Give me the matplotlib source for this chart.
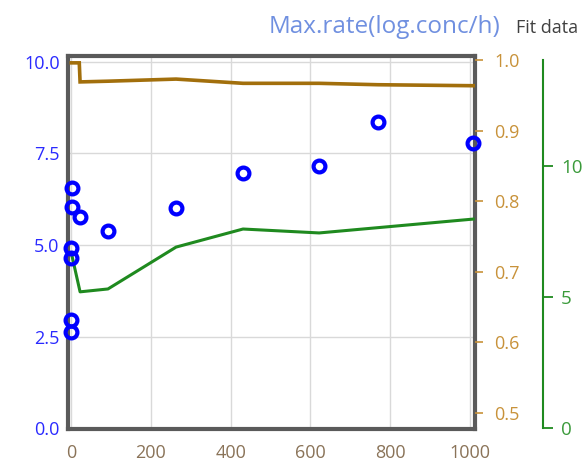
import matplotlib
matplotlib.use("Agg")
import matplotlib.pyplot as plt

# Observed maximum rates (left axis) against time
t_obs = [1, 2, 22, 92, 0, 0, 0, 0, 263, 431, 622, 770, 1009]
rate_obs = [6.55, 6.03, 5.76, 5.38, 4.92, 4.65, 2.95, 2.63, 6.00, 6.96, 7.15, 8.35, 7.78]

# Fitted curve on the brown (0.5-1.0) scale
t_fit_a = [0, 20, 22, 92, 263, 431, 622, 770, 1009]
fit_a = [0.996, 0.996, 0.969, 0.970, 0.973, 0.967, 0.967, 0.965, 0.9636]

# Fitted curve on the green (0-10) scale
t_fit_b = [0, 22, 92, 263, 431, 622, 1009]
fit_b = [6.68, 5.19, 5.30, 6.90, 7.59, 7.44, 7.97]

x_ticks = [0, 200, 400, 600, 800, 1000]
left_ticks = [0.0, 2.5, 5.0, 7.5, 10.0]
brown_ticks = [0.5, 0.6, 0.7, 0.8, 0.9, 1.0]
green_ticks = [0, 5, 10]

plt.rcParams["font.family"] = ["Open Sans", "DejaVu Sans"]

W, H = 588, 462
fig = plt.figure(figsize=(W / 100, H / 100), dpi=100)
left_px, right_px, top_px, bottom_px = 68, 474.5, 56, 429
ax = fig.add_axes([left_px / W, 1 - bottom_px / H,
                   (right_px - left_px) / W, (bottom_px - top_px) / H])

ax2 = ax.twinx()
ax3 = ax.twinx()

BLUE = "#0000ff"
BROWN_LINE = "#a26f0c"
BROWN_TXT = "#c8923a"
GREEN_LINE = "#1f8a1f"
GREEN_TXT = "#3a9a3a"
FRAME = "#5a5a5a"

# limits
ax.set_xlim(-8.3, 1012)
ax.set_ylim(-0.02, 10.15)
ax2.set_ylim(0.4773, 1.0057)
ax3.set_ylim(-0.05, 14.2)

# grid and frame on the host axes
ax.set_xticks(x_ticks)
ax.set_yticks(left_ticks)
ax.set_yticklabels([f"{v:.1f}" for v in left_ticks])
ax.grid(True, color="#d9d9d9", lw=1.0, zorder=0)
ax.set_axisbelow(True)
for s in ax.spines.values():
    s.set_color(FRAME)
    s.set_linewidth(3.0)
ax.tick_params(axis="y", length=0, pad=6, labelcolor="#2a2aff", labelsize=13)
ax.tick_params(axis="x", length=0, pad=11, labelcolor="#8a7358", labelsize=13)

# fitted lines drawn in the host axes using the twin scales
ax.plot(t_fit_a, fit_a, color=BROWN_LINE, lw=2.6, transform=ax2.transData,
        zorder=3, solid_joinstyle="miter")
ax.plot(t_fit_b, fit_b, color=GREEN_LINE, lw=2.2, transform=ax3.transData,
        zorder=3)

# observed points
ax.plot(t_obs, rate_obs, "o", ms=8.5, mfc="none", mec=BLUE, mew=3.0,
        clip_on=False, zorder=5)

ax.set_xlim(-8.3, 1012)
ax.set_ylim(-0.02, 10.15)

# brown right axis: ticks only, frame comes from the host
for s in ax2.spines.values():
    s.set_visible(False)
ax2.set_yticks(brown_ticks)
ax2.set_yticklabels([f"{v:.1f}" for v in brown_ticks])
ax2.tick_params(axis="y", right=True, length=6, width=1.2, color=BROWN_TXT,
                labelcolor=BROWN_TXT, pad=8, labelsize=13)

# green outer axis
for name, s in ax3.spines.items():
    s.set_visible(name == "right")
ax3.spines["right"].set_position(("axes", (543 - left_px) / (right_px - left_px)))
ax3.spines["right"].set_color(GREEN_LINE)
ax3.spines["right"].set_linewidth(1.5)
ax3.spines["right"].set_bounds(0, 14.05)
ax3.set_yticks(green_ticks)
ax3.tick_params(axis="y", right=True, length=7, width=1.3, color=GREEN_LINE,
                labelcolor=GREEN_TXT, pad=6, labelsize=13.5)

ax2.set_ylim(0.4773, 1.0057)
ax3.set_ylim(-0.05, 14.2)

# header texts
base_y = 1 - 33 / H
fig.text(500 / W, base_y, "Max.rate(log.conc/h)", ha="right", va="baseline",
         fontsize=17.5, color="#7090e0")
fig.text(578 / W, base_y, "Fit data", ha="right", va="baseline",
         fontsize=13, color="#404040")

fig.savefig("out.png", dpi=100)
